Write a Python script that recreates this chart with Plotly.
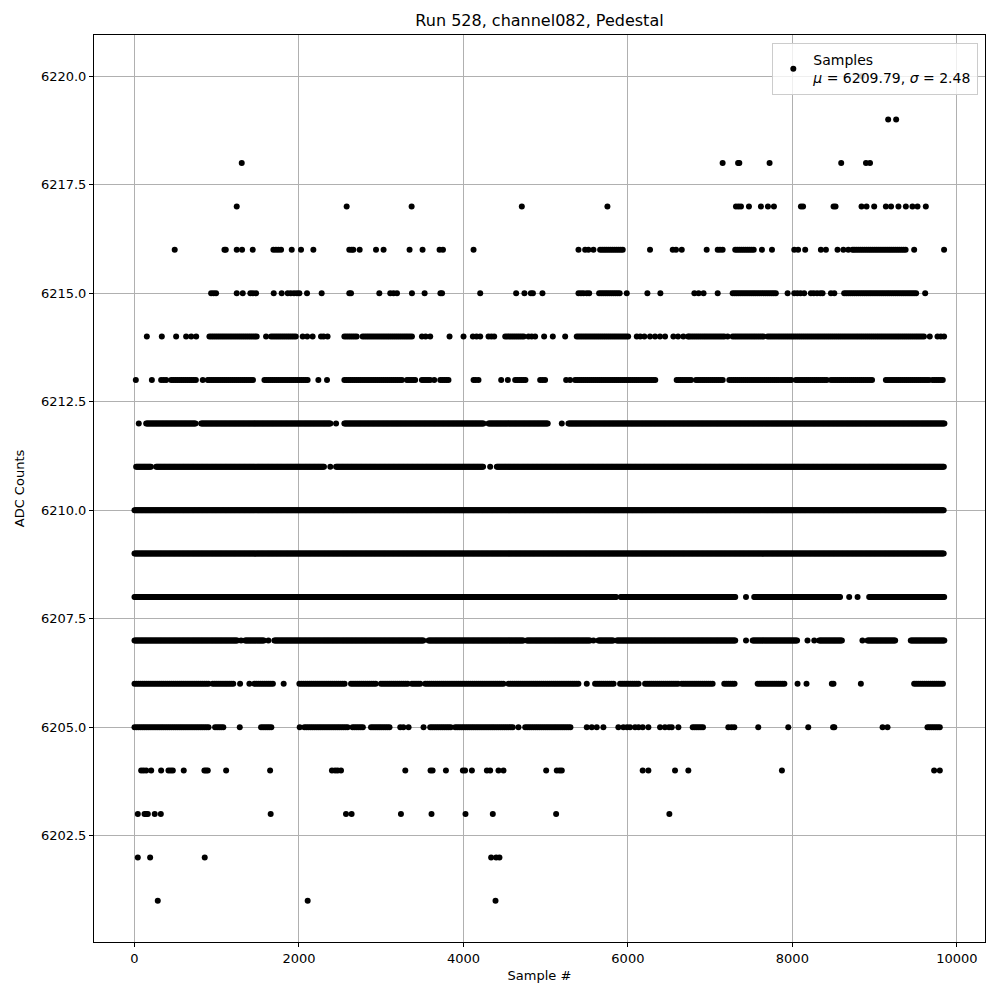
import numpy as np
import plotly.graph_objects as go

# ---- data (sample index ranges / isolated samples per ADC level) ----
levels = list(range(6201, 6221))

runs_6201 = []
dots_6201 = [283, 2106, 4390]
runs_6202 = []
dots_6202 = [40, 190, 854, 4337, 4398, 4438]
runs_6203 = []
dots_6203 = [40, 122, 142, 162, 246, 320, 1656, 2572, 2640, 3240, 3612, 4025, 4357, 5127, 6504]
runs_6204 = []
dots_6204 = [81, 110, 142, 203, 324, 413, 440, 466, 599, 850, 870, 891, 1114, 1649, 2401, 2440, 2470,
             2511, 3293, 3600, 3625, 3787, 3993, 4020, 4103, 4285, 4325, 4426, 4487, 5006, 5135, 5170,
             5196, 6180, 6249, 6573, 6735, 7873, 9724, 9793]
runs_6205 = [(0, 911), (980, 1094), (1539, 1680), (2066, 2592), (2652, 2794), (2876, 3119),
             (3596, 3860), (3900, 4609), (4751, 5318), (6788, 6929), (9643, 9805)]
dots_6205 = [1280, 2009, 3232, 3270, 3333, 3515, 4669, 5500, 5560, 5621, 5702, 5884, 5945, 5990, 6026,
             6087, 6130, 6180, 6249, 6391, 6450, 6500, 6533, 6614, 7221, 7260, 7294, 7585, 7950, 8193,
             8495, 8510, 9097, 9157]
runs_6206 = [(0, 911), (951, 1215), (1458, 1701), (2005, 2572), (2633, 2956), (2997, 3333),
             (3374, 3495), (3536, 4508), (4548, 5419), (5601, 5844), (5905, 6148), (6209, 6614),
             (6655, 7051), (7172, 7314), (7578, 7922), (9481, 9850)]
dots_6206 = [1284, 1397, 1814, 5500, 8063, 8172, 8480, 8500, 8833]
runs_6207 = [(0, 1255), (1345, 1580), (1701, 3515), (3576, 4730), (4771, 5540), (5641, 5824),
             (5865, 7314), (7517, 8063), (8326, 8610), (8914, 9258), (9440, 9850)]
dots_6207 = [1296, 1628, 5581, 7436, 8184, 8266, 8852]
runs_6208 = [(0, 5865), (5913, 7314), (7536, 8590), (8934, 9850)]
dots_6208 = [7436, 8691, 8793]
runs_6209 = [(0, 9850)]
dots_6209 = []
runs_6210 = [(0, 9850)]
dots_6210 = []
runs_6211 = [(20, 210), (264, 2309), (2451, 4245), (4406, 9850)]
dots_6211 = [2381, 4325]
runs_6212 = [(142, 750), (810, 2390), (2552, 4245), (4305, 5034), (5277, 9850)]
dots_6212 = [52, 2451, 5196]
runs_6213 = [(446, 750), (891, 1458), (1580, 2106), (2552, 3252), (3313, 3426), (3495, 3596),
             (3718, 3839), (4629, 4771), (5358, 6351), (6593, 6788), (6828, 7172), (7233, 7840),
             (7861, 8003), (8043, 8428), (8469, 8975), (9137, 9663), (9704, 9850)]
dots_6213 = [16, 211, 324, 355, 385, 830, 2236, 2341, 3645, 4123, 4150, 4183, 4459, 4540, 4933, 4963,
             4993, 5249, 5297]
runs_6214 = [(911, 1498), (1661, 1985), (2552, 2713), (2774, 3394), (4508, 4751), (5378, 6026),
             (6747, 7172), (7274, 7659), (7700, 9623)]
dots_6214 = [150, 332, 506, 628, 690, 750, 1600, 2045, 2100, 2166, 2268, 2300, 2348, 3495, 3540, 3596,
             3831, 4001, 4115, 4160, 4204, 4305, 4340, 4374, 4791, 4830, 4872, 4981, 5087, 5237, 6108,
             6150, 6200, 6269, 6330, 6390, 6452, 6553, 6610, 6674, 6731, 7213, 9671, 9765, 9805, 9845]
runs_6215 = [(5650, 5905), (7274, 7800), (8630, 9522)]
dots_6215 = [932, 962, 992, 1243, 1316, 1409, 1440, 1478, 1693, 1790, 1863, 1900, 1940, 1975, 2005,
             2098, 2276, 2612, 2633, 2977, 3110, 3150, 3192, 3374, 3528, 3720, 3740, 4204, 4641, 4742,
             4820, 4845, 4961, 5399, 5430, 5460, 5500, 5529, 5986, 6237, 6395, 6808, 6860, 6920, 7092,
             7942, 8023, 8060, 8100, 8144, 8225, 8260, 8300, 8340, 8367, 8469, 8510, 9615]
runs_6216 = [(5662, 5945), (7305, 7536), (8752, 9400)]
dots_6216 = [489, 1094, 1110, 1243, 1308, 1438, 1689, 1720, 1750, 1782, 1912, 2025, 2175, 2612, 2640,
             2661, 2738, 2937, 3029, 3345, 3503, 3710, 3751, 4123, 5399, 5480, 5520, 5581, 6269, 6545,
             6585, 6655, 6958, 7092, 7120, 7152, 7630, 7752, 8023, 8070, 8156, 8347, 8408, 8549, 8620,
             8680, 8731, 9481, 9845]
runs_6217 = []
dots_6217 = [1243, 2580, 3370, 4710, 5751, 7314, 7345, 7375, 7472, 7618, 7703, 7776, 8104, 8130, 8501,
             8525, 8841, 8902, 8995, 9137, 9200, 9290, 9380, 9460, 9522, 9623]
runs_6218 = []
dots_6218 = [1304, 7152, 7340, 7355, 7723, 8594, 8895, 8944]
runs_6219 = []
dots_6219 = [9165, 9262]
runs_6220 = []
dots_6220 = [8845]

mean_val = 6209.79
sigma_val = 2.48
title_text = "Run 528, channel082, Pedestal"
x_ticks = [0, 2000, 4000, 6000, 8000, 10000]
y_ticks = [6202.5, 6205.0, 6207.5, 6210.0, 6212.5, 6215.0, 6217.5, 6220.0]

level_runs = {lv: globals()[f"runs_{lv}"] for lv in levels}
level_dots = {lv: globals()[f"dots_{lv}"] for lv in levels}

xs, ys = [], []
for lv in levels:
    step = 12 if 6207 <= lv <= 6212 else 25
    for a, b in level_runs[lv]:
        seg = np.arange(a, b + 1, step)
        xs.extend(seg.tolist())
        ys.extend([lv] * len(seg))
    xs.extend(level_dots[lv])
    ys.extend([lv] * len(level_dots[lv]))

order = np.argsort(xs, kind="stable")
xs = np.array(xs)[order]
ys = np.array(ys)[order]

fig = go.Figure()
fig.add_trace(go.Scatter(
    x=xs, y=ys, mode="markers",
    marker=dict(color="black", size=6, line=dict(width=0)),
    name=f"Samples<br><i>μ</i> = {mean_val:.2f}, <i>σ</i> = {sigma_val:.2f}",
    showlegend=True,
))

font_family = "DejaVu Sans, Arial, sans-serif"
fig.update_layout(
    width=1000, height=1000,
    margin=dict(l=86, r=23, t=27, b=66),
    paper_bgcolor="white", plot_bgcolor="white",
    font=dict(family=font_family, size=13, color="black"),
    title=dict(text=title_text, x=0.5315, xanchor="center", y=0.988, yanchor="middle",
               font=dict(size=16, family=font_family, color="black")),
    legend=dict(x=0.9925, y=0.991, xanchor="right", yanchor="top",
                bgcolor="rgba(255,255,255,0.8)", bordercolor="#cccccc", borderwidth=1,
                font=dict(size=14, family=font_family)),
    showlegend=True,
)
fig.update_xaxes(
    range=[-492.5, 10342.5], tickvals=x_ticks, ticktext=[str(v) for v in x_ticks],
    showgrid=True, gridcolor="#b0b0b0", gridwidth=1, zeroline=False,
    showline=True, linecolor="black", linewidth=1, mirror=True,
    ticks="outside", ticklen=4, tickcolor="black",
    title=dict(text="Sample #", standoff=6, font=dict(size=13)),
)
fig.update_yaxes(
    range=[6200.05, 6220.95], tickvals=y_ticks, ticktext=[f"{v:.1f}" for v in y_ticks],
    showgrid=True, gridcolor="#b0b0b0", gridwidth=1, zeroline=False,
    showline=True, linecolor="black", linewidth=1, mirror=True,
    ticks="outside", ticklen=4, tickcolor="black",
    title=dict(text="ADC Counts", standoff=13, font=dict(size=13)),
)

fig.write_html("out.html")
